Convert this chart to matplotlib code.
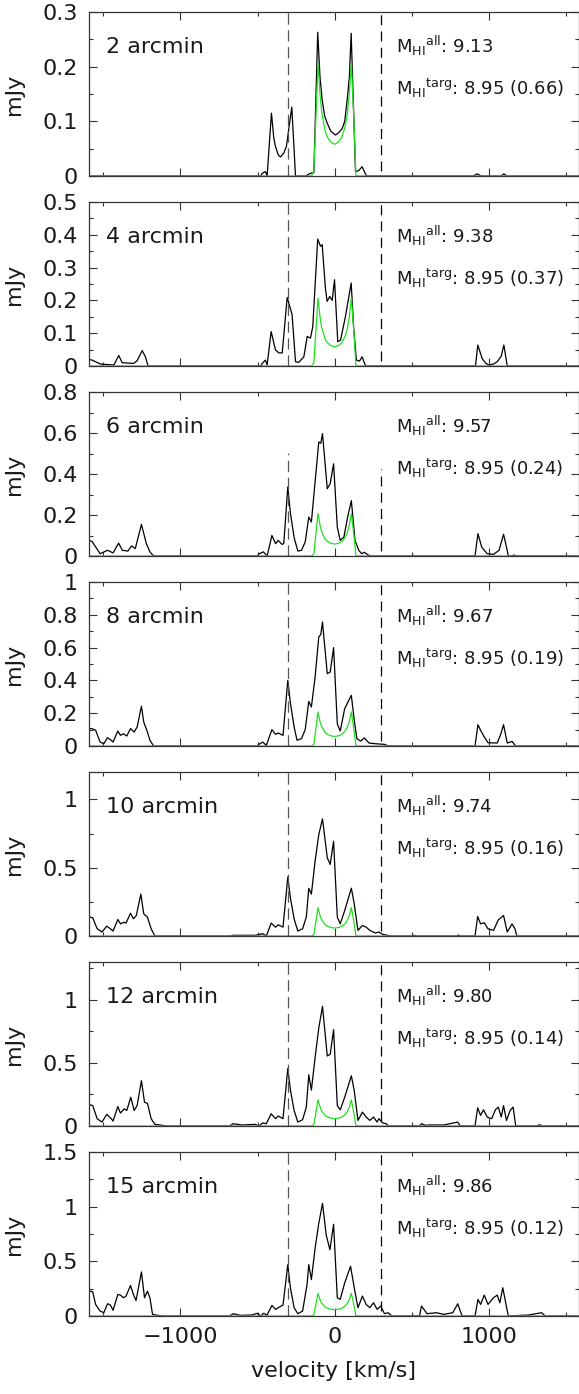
import numpy as np
import matplotlib
matplotlib.use("Agg")
import matplotlib.pyplot as plt
from matplotlib.ticker import MultipleLocator, FormatStrFormatter

# aperture labels and HI masses
apertures = ["2 arcmin", "4 arcmin", "6 arcmin", "8 arcmin", "10 arcmin", "12 arcmin", "15 arcmin"]
mhi_all = ["9.13", "9.38", "9.57", "9.67", "9.74", "9.80", "9.86"]
mhi_targ = "8.95"
mhi_frac = ["0.66", "0.37", "0.24", "0.19", "0.16", "0.14", "0.12"]

ytop = [0.3, 0.5, 0.8, 1.0, 1.2, 1.3, 1.5]
ymajor = [0.1, 0.1, 0.2, 0.2, 0.5, 0.5, 0.5]
yminor = [0.05, 0.05, 0.1, 0.1, 0.25, 0.25, 0.25]

xlims = (-1593, 1581)
vsys_window = (-300, 300)

# target galaxy model (same in every aperture): (velocity, mJy)
target = [(-1593, 0), (-150, 0), (-135, 0.01), (-108, 0.207), (-95, 0.15), (-84, 0.117),
          (-70, 0.095), (-60, 0.08), (-45, 0.07), (-24, 0.062), (0, 0.058), (24, 0.062),
          (45, 0.07), (65, 0.088), (80, 0.11), (95, 0.15), (108, 0.207), (125, 0.1),
          (138, 0), (1581, 0)]

# total spectrum in each aperture: (velocity, mJy)
spec_2 = [(-1593, 0), (-480, 0), (-470, 0.005), (-449, 0.008), (-438, 0), (-410, 0.115),
          (-395, 0.07), (-384, 0.054), (-365, 0.038), (-351, 0.035), (-330, 0.042),
          (-313, 0.054), (-278, 0.126), (-254, 0), (-189, 0), (-157, 0.005), (-135, 0.006),
          (-110, 0.263), (-95, 0.18), (-81, 0.139), (-65, 0.11), (-49, 0.097), (-25, 0.082),
          (5, 0.075), (25, 0.079), (49, 0.087), (65, 0.1), (81, 0.139), (95, 0.18),
          (107, 0.261), (135, 0.008), (156, 0.01), (178, 0.017), (206, 0), (900, 0),
          (924, 0.004), (950, 0), (1080, 0), (1097, 0.004), (1115, 0), (1581, 0)]

spec_4 = [(-1593, 0.02), (-1573, 0.018), (-1519, 0.006), (-1432, 0.003), (-1400, 0.032),
          (-1378, 0.01), (-1303, 0.008), (-1281, 0.016), (-1248, 0.047), (-1227, 0.028),
          (-1210, 0), (-480, 0), (-470, 0.008), (-449, 0.018), (-438, 0.003), (-412, 0.105),
          (-384, 0.049), (-362, 0.04), (-340, 0.04), (-308, 0.209), (-290, 0.18),
          (-276, 0.156), (-254, 0.013), (-233, 0.011), (-200, 0.028), (-178, 0.09),
          (-157, 0.085), (-142, 0.12), (-110, 0.387), (-92, 0.365), (-81, 0.37), (-60, 0.237),
          (-49, 0.197), (-32, 0.212), (-16, 0.2), (-1, 0.263), (20, 0.074), (38, 0.079),
          (70, 0.151), (107, 0.253), (124, 0.11), (141, 0.018), (161, 0.015), (178, 0.028),
          (200, 0), (913, 0), (928, 0.064), (956, 0.023), (980, 0.008), (999, 0.003),
          (1030, 0.006), (1054, 0.013), (1080, 0.03), (1097, 0.064), (1119, 0), (1581, 0)]

spec_6 = [(-1593, 0.075), (-1574, 0.072), (-1521, 0.011), (-1473, 0.028), (-1437, 0.015),
          (-1401, 0.063), (-1377, 0.028), (-1341, 0.024), (-1317, 0.049), (-1293, 0.036),
          (-1253, 0.154), (-1221, 0.06), (-1198, 0.02), (-1174, 0), (-500, 0), (-491, 0.011),
          (-462, 0.02), (-438, 0), (-407, 0.1), (-383, 0.06), (-366, 0.076), (-342, 0.057),
          (-330, 0.06), (-304, 0.337), (-287, 0.21), (-263, 0.09), (-239, 0.024),
          (-215, 0.028), (-191, 0.068), (-168, 0.19), (-151, 0.166), (-132, 0.32),
          (-103, 0.556), (-90, 0.55), (-79, 0.597), (-48, 0.328), (-29, 0.353), (-7, 0.45),
          (17, 0.141), (36, 0.076), (60, 0.093), (84, 0.19), (108, 0.27), (132, 0.076),
          (156, 0.028), (175, 0.011), (192, 0.018), (228, 0), (910, 0), (929, 0.109),
          (953, 0.044), (989, 0.011), (1030, 0.008), (1066, 0.028), (1095, 0.106),
          (1114, 0.044), (1126, 0), (1150, 0), (1162, 0.005), (1175, 0), (1581, 0)]

spec_8 = [(-1593, 0.106), (-1574, 0.106), (-1550, 0.096), (-1521, 0.024), (-1497, 0.014),
          (-1473, 0.051), (-1449, 0.035), (-1437, 0.024), (-1406, 0.091), (-1389, 0.065),
          (-1370, 0.075), (-1348, 0.061), (-1324, 0.106), (-1300, 0.085), (-1281, 0.116),
          (-1253, 0.242), (-1238, 0.146), (-1214, 0.085), (-1198, 0.035), (-1174, 0),
          (-500, 0), (-491, 0.01), (-467, 0.024), (-443, 0.004), (-407, 0.1), (-383, 0.071),
          (-366, 0.079), (-335, 0.065), (-304, 0.4), (-287, 0.262), (-263, 0.116),
          (-244, 0.035), (-215, 0.045), (-191, 0.1), (-168, 0.272), (-151, 0.238),
          (-127, 0.42), (-103, 0.665), (-90, 0.68), (-79, 0.756), (-48, 0.441), (-29, 0.451),
          (-7, 0.6), (17, 0.136), (36, 0.091), (65, 0.228), (108, 0.309), (127, 0.156),
          (144, 0.045), (168, 0.03), (192, 0.049), (223, 0.018), (263, 0.014), (323, 0.01),
          (347, 0), (910, 0), (929, 0.13), (946, 0.096), (970, 0.055), (994, 0.02),
          (1054, 0.018), (1078, 0.075), (1095, 0.13), (1119, 0.018), (1150, 0.028),
          (1174, 0), (1581, 0)]

spec_10 = [(-1593, 0.14), (-1569, 0.133), (-1540, 0.053), (-1509, 0.029), (-1478, 0.072),
           (-1454, 0.053), (-1437, 0.036), (-1406, 0.121), (-1389, 0.089), (-1365, 0.101),
           (-1353, 0.094), (-1324, 0.167), (-1305, 0.126), (-1286, 0.15), (-1257, 0.307),
           (-1238, 0.162), (-1214, 0.138), (-1190, 0.053), (-1166, 0), (-680, 0),
           (-659, 0.005), (-515, 0.005), (-467, 0.017), (-443, 0), (-412, 0.094),
           (-383, 0.065), (-366, 0.082), (-335, 0.065), (-304, 0.432), (-287, 0.278),
           (-263, 0.126), (-239, 0.036), (-208, 0.053), (-184, 0.138), (-168, 0.348),
           (-151, 0.307), (-127, 0.548), (-103, 0.742), (-79, 0.857), (-48, 0.572),
           (-29, 0.524), (-7, 0.693), (17, 0.138), (36, 0.089), (65, 0.186), (108, 0.35),
           (127, 0.234), (151, 0.041), (180, 0.077), (204, 0.065), (228, 0.041),
           (263, 0.022), (287, 0.029), (311, 0.012), (335, 0.007), (360, 0), (500, 0),
           (515, 0.005), (530, 0), (790, 0), (802, 0.007), (815, 0), (910, 0), (927, 0.143),
           (946, 0.089), (970, 0.097), (994, 0.053), (1030, 0.041), (1061, 0.118),
           (1095, 0.15), (1119, 0.029), (1150, 0.089), (1169, 0.053), (1181, 0), (1581, 0)]

spec_12 = [(-1593, 0.17), (-1569, 0.162), (-1540, 0.058), (-1509, 0.031), (-1478, 0.092),
           (-1449, 0.058), (-1437, 0.039), (-1406, 0.154), (-1389, 0.102), (-1365, 0.136),
           (-1348, 0.123), (-1322, 0.228), (-1300, 0.123), (-1281, 0.162), (-1253, 0.359),
           (-1233, 0.188), (-1214, 0.18), (-1190, 0.058), (-1166, 0.013), (-1114, 0.005),
           (-1090, 0), (-680, 0), (-659, 0.018), (-600, 0.008), (-515, 0.013), (-491, 0),
           (-467, 0.024), (-443, 0.018), (-412, 0.097), (-383, 0.058), (-366, 0.079),
           (-335, 0.058), (-304, 0.456), (-287, 0.285), (-263, 0.123), (-239, 0.031),
           (-208, 0.05), (-184, 0.149), (-168, 0.406), (-151, 0.285), (-127, 0.542),
           (-103, 0.777), (-79, 0.948), (-48, 0.555), (-29, 0.568), (-7, 0.764), (17, 0.162),
           (36, 0.128), (65, 0.228), (108, 0.398), (127, 0.28), (151, 0.044), (180, 0.11),
           (204, 0.071), (228, 0.044), (252, 0.071), (275, 0.031), (287, 0.058),
           (311, 0.024), (335, 0.018), (347, 0), (550, 0), (563, 0.018), (590, 0.005),
           (611, 0.008), (707, 0.008), (798, 0.031), (814, 0), (910, 0), (927, 0.144),
           (946, 0.084), (965, 0.128), (989, 0.071), (1018, 0.058), (1042, 0.128),
           (1061, 0.15), (1080, 0.071), (1095, 0.162), (1114, 0.044), (1138, 0.123),
           (1157, 0.15), (1174, 0), (1310, 0), (1329, 0.01), (1345, 0), (1581, 0)]

spec_15 = [(-1593, 0.23), (-1569, 0.221), (-1550, 0.106), (-1521, 0.045), (-1497, 0.03),
           (-1473, 0.112), (-1454, 0.1), (-1437, 0.052), (-1406, 0.197), (-1389, 0.191),
           (-1370, 0.167), (-1353, 0.182), (-1324, 0.279), (-1305, 0.197), (-1288, 0.142),
           (-1253, 0.403), (-1233, 0.167), (-1214, 0.227), (-1198, 0.167), (-1181, 0.015),
           (-1162, 0.009), (-1114, 0), (-680, 0), (-659, 0.021), (-611, 0.006),
           (-539, 0.009), (-503, 0.024), (-479, 0), (-462, 0.024), (-438, 0.009),
           (-407, 0.097), (-383, 0.061), (-366, 0.076), (-335, 0.1), (-304, 0.47),
           (-287, 0.258), (-263, 0.076), (-239, 0.021), (-208, 0.045), (-179, 0.288),
           (-168, 0.47), (-151, 0.333), (-127, 0.62), (-103, 0.848), (-79, 1.03),
           (-55, 0.742), (-31, 0.606), (-7, 0.839), (17, 0.167), (36, 0.152), (65, 0.303),
           (103, 0.455), (127, 0.258), (151, 0.076), (180, 0.182), (204, 0.106),
           (228, 0.076), (252, 0.121), (275, 0.061), (299, 0.091), (323, 0.021),
           (347, 0.03), (371, 0), (550, 0), (563, 0.091), (599, 0.021), (659, 0.03),
           (707, 0.015), (766, 0.03), (798, 0.112), (826, 0), (910, 0), (929, 0.152),
           (946, 0.106), (970, 0.191), (994, 0.106), (1030, 0.167), (1054, 0.191),
           (1071, 0.121), (1090, 0.258), (1109, 0.121), (1126, 0), (1257, 0.009),
           (1341, 0.03), (1365, 0), (1581, 0)]

spectra = [spec_2, spec_4, spec_6, spec_8, spec_10, spec_12, spec_15]

plt.rcParams['font.family'] = ['DejaVu Sans']
plt.rcParams['mathtext.fontset'] = 'dejavusans'

W, H = 579, 1394
fig = plt.figure(figsize=(W / 100, H / 100), dpi=100)

tv, tf = np.array(target).T
txt_col = '#1a1a1a'

for i in range(7):
    top_px = 12 + 190 * i
    ax = fig.add_axes([89 / W, 1 - (top_px + 164) / H, 489.5 / W, 164 / H])
    v, f = np.array(spectra[i]).T
    ax.plot(v, f, color='black', lw=0.9)
    ax.plot(tv, tf, color='#1fe01f', lw=0.9)

    # dashed velocity window
    left_top = 0.63 if i == 2 else 1.0
    right_top = 0.53 if i == 2 else 1.0
    ax.axvline(vsys_window[0], ymin=0, ymax=left_top, color='#555555', lw=0.9,
               dashes=(9, 4.5))
    ax.axvline(vsys_window[1], ymin=0.03, ymax=right_top, color='black', lw=0.9,
               dashes=(8, 5))

    ax.set_xlim(*xlims)
    ax.set_ylim(0, ytop[i])
    ax.xaxis.set_major_locator(MultipleLocator(1000))
    ax.xaxis.set_minor_locator(MultipleLocator(500))
    ax.yaxis.set_major_locator(MultipleLocator(ymajor[i]))
    ax.yaxis.set_minor_locator(MultipleLocator(yminor[i]))
    ax.yaxis.set_major_formatter(FormatStrFormatter('%g'))
    ax.tick_params(which='both', direction='in', top=True, right=True,
                   width=0.8, colors='#333333', labelcolor=txt_col, labelsize=16, pad=8)
    ax.tick_params(which='major', length=5.8)
    ax.tick_params(which='minor', length=3)
    for s in ax.spines.values():
        s.set_linewidth(0.9)
        s.set_color('#333333')
    if i < 6:
        ax.tick_params(labelbottom=False)
    else:
        ax.set_xlabel('velocity [km/s]', fontsize=16, color=txt_col, labelpad=10)
    ax.set_ylabel('mJy', fontsize=16, color=txt_col)
    ax.yaxis.set_label_coords(-0.133, 0.5)

    ax.text(0.035, 0.75, apertures[i], transform=ax.transAxes, fontsize=16,
            color=txt_col, va='baseline', ha='left')
    ax.text(0.628, 0.75, r'M$_{\rm HI}$$^{\rm all}$: ' + mhi_all[i],
            transform=ax.transAxes, fontsize=13, color=txt_col, va='baseline')
    ax.text(0.628, 0.494, r'M$_{\rm HI}$$^{\rm targ}$: ' + mhi_targ + ' (' + mhi_frac[i] + ')',
            transform=ax.transAxes, fontsize=13, color=txt_col, va='baseline')

fig.savefig('out.png', dpi=100)
